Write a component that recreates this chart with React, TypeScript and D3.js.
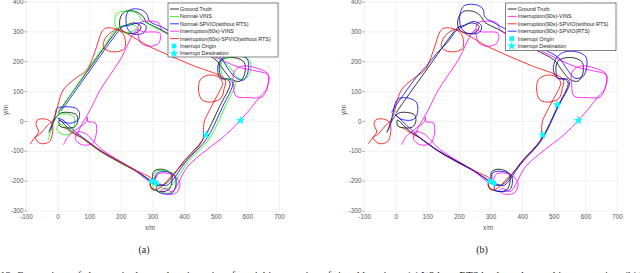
import React from "react"
import * as d3 from "d3"

// axis ticks
const xTicks = [-100, 0, 100, 200, 300, 400, 500, 600, 700]
const yTicks = [-300, -200, -100, 0, 100, 200, 300, 400]

// trajectories in metres [x, y]
const groundTruth = [
  [-30, -38], [-20, -12], [-8, 12], [8, 28], [35, 30], [58, 22], [62, 0], [52, -18], [28, -22], [5, -15], [4, 5], [20, -10], [45, -35],
  [75, -55], [133, -100], [190, -135], [238, -162], [270, -182], [296, -198],
  [302, -168], [325, -160], [355, -172], [360, -200], [350, -228], [325, -235], [295, -222], [292, -205], [310, -212], [335, -212],
  [400, -130], [457, -62], [510, 49], [544, 128],
  [535, 140], [512, 145], [505, 170], [510, 200], [530, 212], [565, 212], [588, 198], [590, 160], [575, 135], [550, 140], [525, 170], [500, 205],
  [440, 240], [380, 275], [320, 310], [280, 332],
  [268, 352], [245, 368], [212, 368], [196, 345], [198, 310], [220, 296], [250, 298], [262, 318], [240, 330], [210, 320], [195, 315],
  [170, 283], [130, 224], [90, 164], [50, 105], [20, 60], [6, 39], [0, 28],
]

const normalVins = [
  [-32, -62], [-22, -30], [-12, 0], [2, 22], [30, 25], [50, 15], [52, -10], [42, -38], [20, -45], [-4, -29], [5, -10], [25, -20], [50, -40],
  [80, -58], [135, -100], [240, -163], [300, -200],
  [310, -168], [340, -165], [370, -180], [375, -210], [362, -235], [335, -240], [305, -228], [300, -210], [325, -222], [350, -222],
  [415, -130], [476, -62], [528, 49], [560, 128],
  [550, 140], [525, 142], [515, 170], [520, 205], [545, 215], [590, 215], [608, 200], [605, 160], [585, 140], [565, 150], [540, 185], [510, 208],
  [440, 243], [370, 280], [300, 318], [265, 340],
  [250, 362], [215, 370], [185, 360], [180, 325], [195, 302], [230, 300], [250, 315], [230, 325], [200, 318], [180, 305],
  [150, 258], [110, 200], [75, 145], [40, 90], [15, 50], [0, 25],
]

const normalSpvio = [
  [-25, -30], [-15, 0], [-8, 25], [-5, 42], [10, 48], [55, 45], [67, 30], [65, 8], [45, -5], [15, -2], [0, 10], [15, 5], [35, -15], [55, -35],
  [80, -55], [135, -98], [240, -160], [300, -198],
  [315, -172], [340, -168], [368, -182], [372, -215], [360, -240], [330, -242], [310, -228], [318, -210], [342, -215],
  [408, -130], [467, -62], [520, 49], [552, 128],
  [540, 142], [518, 145], [510, 170], [515, 205], [535, 220], [580, 220], [600, 205], [600, 165], [585, 138], [560, 148], [535, 180], [515, 212],
  [450, 248], [390, 280], [330, 315], [290, 335],
  [280, 360], [260, 375], [225, 373], [215, 350], [220, 310], [240, 292], [272, 298], [278, 320], [255, 330], [225, 322], [205, 318],
  [175, 280], [135, 222], [95, 162], [55, 103], [25, 58], [10, 35],
]

const interruptVins = [
  [17, -78], [32, -50], [60, -25], [90, 0], [92, 15], [94, 0],
  [118, -5], [120, -45], [108, -74], [75, -78], [55, -60], [60, -35], [85, -40],
  [140, -95], [240, -162], [300, -205],
  [318, -175], [360, -178], [385, -205], [375, -238], [345, -244], [325, -232], [340, -225], [360, -235],
  [410, -150], [470, -95], [530, -45], [576, 4], [610, 45], [640, 85], [660, 110],
  [662, 160], [630, 178], [580, 185], [556, 165], [555, 120], [562, 85], [600, 80], [645, 82], [660, 110], [665, 155], [620, 170], [570, 182],
  [480, 225], [400, 268], [330, 305],
  [318, 330], [290, 336], [258, 330], [252, 300], [262, 262], [290, 252], [318, 262], [322, 295],
  [270, 300], [249, 306], [196, 206], [133, 105], [101, 38], [70, -20], [59, -51],
]

const interruptSpvio = [
  [-88, -75], [-75, -55], [-62, -35], [-70, -10], [-65, 5], [-40, 8], [-20, -5], [-18, -40], [-28, -68], [-55, -74], [-72, -55], [-55, -40],
  [-35, -15], [-16, 5], [16, 105], [50, 140], [91, 173], [110, 215], [122, 251], [138, 300],
  [150, 312], [175, 312], [200, 300], [212, 275], [210, 245], [190, 234], [160, 236], [143, 250], [150, 280], [170, 300], [185, 308],
  [300, 245], [420, 190], [528, 140],
  [525, 110], [515, 78], [485, 65], [455, 72], [444, 105], [450, 140], [475, 155], [505, 150], [520, 130], [510, 100], [497, 75],
  [476, 32], [462, 0], [460, -20], [457, -62],
  [407, -128], [343, -200],
  [325, -220], [300, -230], [290, -210], [298, -195],
  [238, -160], [133, -98], [75, -55], [40, -35], [20, -20],
]

const interruptRts = [
  [-25, -30], [-18, -5], [-10, 30], [-5, 55], [5, 75], [40, 78], [65, 62], [65, 20], [50, 5], [15, 8], [-5, 25], [10, 10], [40, -20],
  [75, -55], [133, -98], [238, -160], [300, -198],
  [305, -172], [340, -168], [365, -182], [362, -225], [340, -235], [310, -228], [315, -210], [340, -215],
  [402, -130], [460, -62], [512, 49], [548, 128],
  [540, 142], [510, 145], [497, 170], [505, 210], [530, 232], [575, 232], [600, 215], [602, 180], [590, 150], [565, 145], [540, 175], [515, 212],
  [450, 250], [380, 290], [310, 330], [280, 350],
  [275, 375], [255, 390], [215, 388], [202, 360], [205, 315], [225, 295], [262, 298], [270, 320], [245, 335], [215, 320], [192, 306],
  [160, 262], [128, 228], [95, 185], [65, 150], [30, 100], [-3, 50], [-15, 30],
]

const originsA = [[296, -200], [310, -206]]
const destinationsA = [[468, -45], [577, 3]]
const originsB = [[296, -200], [308, -206]]
const destinationsB = [[509, 56], [463, -45], [576, 3]]

const legendA = ["Ground Truth", "Normal-VINS", "Normal-SPVIO(without RTS)", "Interruption(60s)-VINS", "Interruption(60s)-SPVIO(without RTS)", "Interrupt Origin", "Interrupt Destination"]
const legendB = ["Ground Truth", "Interruption(90s)-VINS", "Interruption(90s)-SPVIO(without RTS)", "Interruption(90s)-SPVIO(RTS)", "Interrupt Origin", "Interrupt Destination"]

const font = "Liberation Sans, Arial, sans-serif"
const grey = "#555"

function Panel({ left, right, series, origins, dests, legend, legendBox, label }) {
  const x = d3.scaleLinear().domain([-100, 700]).range([left, right])
  const y = d3.scaleLinear().domain([-300, 400]).range([211, 2])
  const line = d3.line().x(d => x(d[0])).y(d => y(d[1])).curve(d3.curveCatmullRom.alpha(0.5))
  const square = d3.symbol().type(d3.symbolSquare).size(22)()
  const star = d3.symbol().type(d3.symbolStar).size(26)()
  const colors = series.map(s => s.color)
  const [lx, ly, lw, lh] = legendBox

  return (
    <g>
      {xTicks.map(t => (
        <g key={"x" + t}>
          <line x1={x(t)} x2={x(t)} y1={y(400)} y2={y(-300)} stroke="#e8e8e8" strokeWidth={0.6} />
          <text x={x(t)} y={219} fontSize={6.3} fontFamily={font} fill={grey} textAnchor="middle">{t}</text>
        </g>
      ))}
      {yTicks.map(t => (
        <g key={"y" + t}>
          <line x1={left} x2={right} y1={y(t)} y2={y(t)} stroke="#e8e8e8" strokeWidth={0.6} />
          <line x1={left - 2} x2={left} y1={y(t)} y2={y(t)} stroke={grey} strokeWidth={0.6} />
          <text x={left - 3} y={y(t) + 2.2} fontSize={6.3} fontFamily={font} fill={grey} textAnchor="end">{t}</text>
        </g>
      ))}
      <text x={(left + right) / 2 - 3} y={230} fontSize={6.3} fontFamily={font} fill={grey} textAnchor="middle">x/m</text>
      <text transform={`translate(${left - 19},110) rotate(-90)`} fontSize={6.3} fontFamily={font} fill={grey} textAnchor="middle">y/m</text>

      {series.map((s, i) => (
        <path key={i} d={line(s.data)} fill="none" stroke={s.color} strokeWidth={0.8} />
      ))}
      {origins.map((p, i) => (
        <path key={"o" + i} d={square} transform={`translate(${x(p[0])},${y(p[1])})`} fill="#00ffff" />
      ))}
      {dests.map((p, i) => (
        <path key={"d" + i} d={star} transform={`translate(${x(p[0])},${y(p[1])})`} fill="#00ffff" />
      ))}

      <rect x={lx} y={ly} width={lw} height={lh} fill="white" stroke="#333" strokeWidth={0.6} />
      {legend.map((name, i) => {
        const ry = ly + 6 + i * 7.4
        const isOrigin = name === "Interrupt Origin"
        const isDest = name === "Interrupt Destination"
        return (
          <g key={name}>
            {isOrigin && <path d={square} transform={`translate(${lx + 6},${ry})`} fill="#00ffff" />}
            {isDest && <path d={star} transform={`translate(${lx + 6},${ry})`} fill="#00ffff" />}
            {!isOrigin && !isDest && <line x1={lx + 2} x2={lx + 11} y1={ry} y2={ry} stroke={colors[i]} strokeWidth={0.8} />}
            <text x={lx + 12} y={ry + 2} fontSize={5.4} fontFamily={font} fill="#222">{name}</text>
          </g>
        )
      })}
      <text x={(left + right) / 2 - 9} y={253} fontSize={10} fontFamily="Liberation Serif, serif" textAnchor="middle" fill="#222">{label}</text>
    </g>
  )
}

export default function App() {
  const seriesA = [
    { data: groundTruth, color: "#000000" },
    { data: normalVins, color: "#00ff00" },
    { data: normalSpvio, color: "#0000ff" },
    { data: interruptVins, color: "#ff00ff" },
    { data: interruptSpvio, color: "#ff0000" },
  ]
  const seriesB = [
    { data: groundTruth, color: "#000000" },
    { data: interruptVins, color: "#ff00ff" },
    { data: interruptSpvio, color: "#ff0000" },
    { data: interruptRts, color: "#0000ff" },
  ]
  return (
    <div style={{ position: "fixed", left: 0, top: 0, width: 640, height: 273, background: "white" }}>
      <svg width={640} height={273} style={{ display: "block" }}>
        <Panel left={26.5} right={279.5} series={seriesA} origins={originsA} dests={destinationsA}
          legend={legendA} legendBox={[168, 3, 110, 54]} label="(a)" />
        <Panel left={364.6} right={617.6} series={seriesB} origins={originsB} dests={destinationsB}
          legend={legendB} legendBox={[505.7, 3, 110.3, 47.7]} label="(b)" />
        <text x={0} y={279} fontSize={11} fontFamily="Liberation Serif, serif" fill="#222" textLength={650} lengthAdjust="spacing">
          12.  Comparison of changes in the result trajectories of partial interruption of signal locations. (a) Without RTS backward smoothing correction; (b) W
        </text>
      </svg>
    </div>
  )
}
